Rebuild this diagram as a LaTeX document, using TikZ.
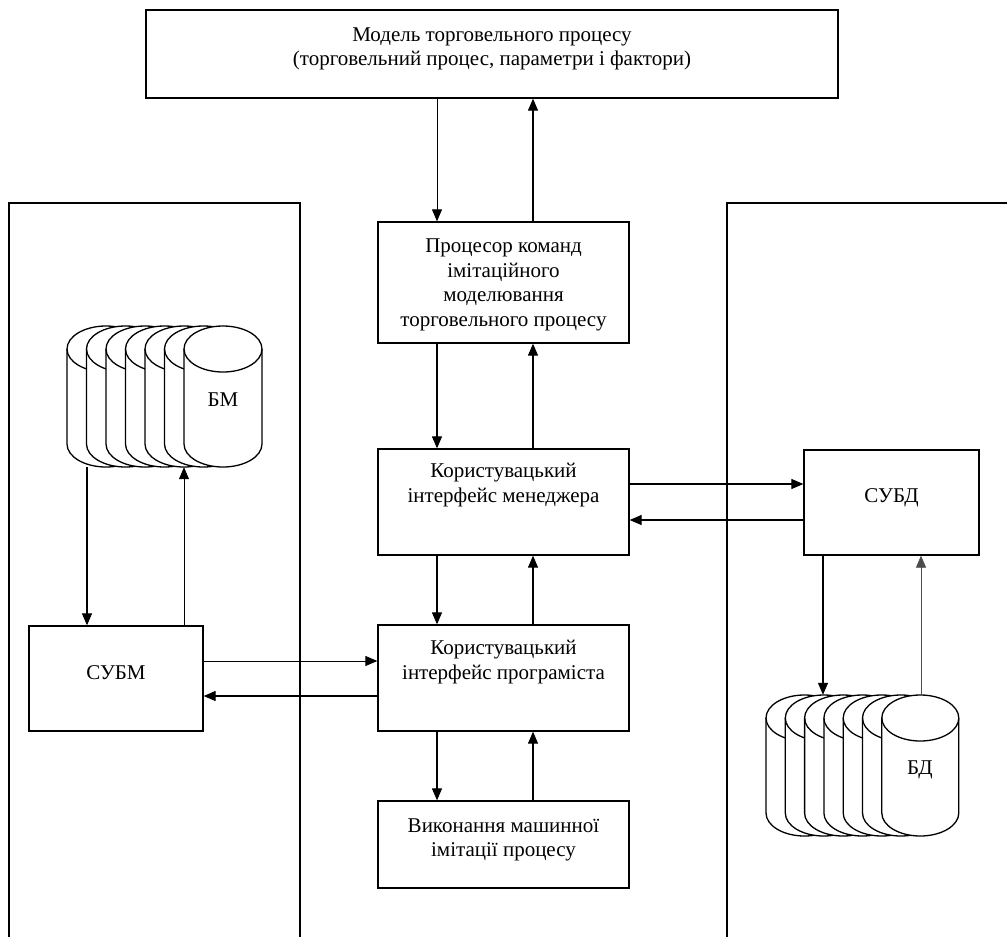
\documentclass[tikz,border=0pt]{standalone}
\usepackage{fontspec}
\setmainfont{Liberation Serif}
\usetikzlibrary{arrows.meta}

\tikzset{
  box/.style={draw, line width=1.3pt, fill=white, inner sep=0pt},
  lbl/.style={align=center, font=\fontsize{21}{24.5}\selectfont, inner sep=0pt},
  arr/.style={line width=1.1pt, -{Triangle[length=12pt,width=10pt]}},
  thinarr/.style={arr, line width=0.8pt},
  panel/.style={line width=1.3pt},
  disk/.style={draw, line width=1.3pt, fill=white},
  stack/.style={inner sep=0pt},
}

% one drum of a disk stack: left x, top y, width, total height
\newcommand\drum[4]{%
  \pgfmathsetmacro\drx{#3/2}%
  \path[disk] (#1,#2+23) -- (#1,#2+#4-23)
    arc[start angle=180,end angle=360,x radius=\drx pt,y radius=23pt]
    -- (#1+#3,#2+23)
    arc[start angle=0,end angle=180,x radius=\drx pt,y radius=23pt] -- cycle;
  \draw[line width=1.3pt] (#1,#2+23)
    arc[start angle=180,end angle=360,x radius=\drx pt,y radius=23pt];
}

\begin{document}
\begin{tikzpicture}[x=1pt,y=-1pt]
\useasboundingbox (0,0) rectangle (1007,937);

% side panels
\draw[panel] (9,937) -- (9,203) -- (300,203) -- (300,937);
\draw[panel] (727,937) -- (727,203) -- (1007,203);

% main chain of boxes
\node[box, minimum width=692pt, minimum height=88pt] (model) at (492,54) {};
\node[lbl] at (492,49) {Модель торговельного процесу\\(торговельний процес, параметри і фактори)};

\node[box, minimum width=251pt, minimum height=121pt] (proc) at (503.5,282.5) {};
\node[lbl] at (503.5,285) {Процесор команд\\імітаційного\\моделювання\\торговельного процесу};

\node[box, minimum width=251pt, minimum height=106pt] (mgr) at (503.5,502) {};
\node[lbl] at (503.5,485) {Користувацький\\інтерфейс менеджера};

\node[box, minimum width=251pt, minimum height=106pt] (prog) at (503.5,678) {};
\node[lbl] at (503.5,662) {Користувацький\\інтерфейс програміста};

\node[box, minimum width=251pt, minimum height=87pt] (exec) at (503.5,844.5) {};
\node[lbl] at (503.5,840) {Виконання машинної\\імітації процесу};

% side managers
\node[box, minimum width=174pt, minimum height=105pt] (subm) at (116,678.5) {};
\node[lbl] at (116,673) {СУБМ};

\node[box, minimum width=175pt, minimum height=105pt] (subd) at (891.5,502.5) {};
\node[lbl] at (891.5,498) {СУБД};

% disk stacks
\foreach \i in {0,...,6} {\drum{67+19.5*\i}{326}{78}{141}}
\node[stack, minimum width=195pt, minimum height=141pt] (bm) at (164.5,396.5) {};
\node[lbl] at (223,400) {БМ};

\foreach \i in {0,...,6} {\drum{766+19.3*\i}{695}{77}{141}}
\node[stack, minimum width=193pt, minimum height=141pt] (bd) at (862.5,765.5) {};
\node[lbl] at (920,770) {БД};

% connector positions
\coordinate (dnx) at (437,0);
\coordinate (upx) at (533,0);
\coordinate (lx1) at (87,0);
\coordinate (lx2) at (184,0);
\coordinate (rx1) at (823,0);
\coordinate (rx2) at (921,0);
\coordinate (hy1) at (0,661);
\coordinate (hy2) at (0,696);
\coordinate (hy3) at (0,484);
\coordinate (hy4) at (0,520);

% central chain connectors
\draw[thinarr] (model.south -| dnx) -- (proc.north -| dnx);
\draw[arr] (proc.north -| upx) -- (model.south -| upx);
\draw[arr] (proc.south -| dnx) -- (mgr.north -| dnx);
\draw[arr] (mgr.north -| upx) -- (proc.south -| upx);
\draw[arr] (mgr.south -| dnx) -- (prog.north -| dnx);
\draw[arr] (prog.north -| upx) -- (mgr.south -| upx);
\draw[arr] (prog.south -| dnx) -- (exec.north -| dnx);
\draw[arr] (exec.north -| upx) -- (prog.south -| upx);

% left side connectors
\draw[arr] (bm.south -| lx1) -- (subm.north -| lx1);
\draw[thinarr] (subm.north -| lx2) -- (bm.south -| lx2);
\draw[thinarr] (subm.east |- hy1) -- (prog.west |- hy1);
\draw[arr] (prog.west |- hy2) -- (subm.east |- hy2);

% right side connectors
\draw[arr] (mgr.east |- hy3) -- (subd.west |- hy3);
\draw[arr] (subd.west |- hy4) -- (mgr.east |- hy4);
\draw[arr] (subd.south -| rx1) -- (bd.north -| rx1);
\draw[thinarr, draw=black!70] (bd.north -| rx2) -- (subd.south -| rx2);
\end{tikzpicture}
\end{document}
